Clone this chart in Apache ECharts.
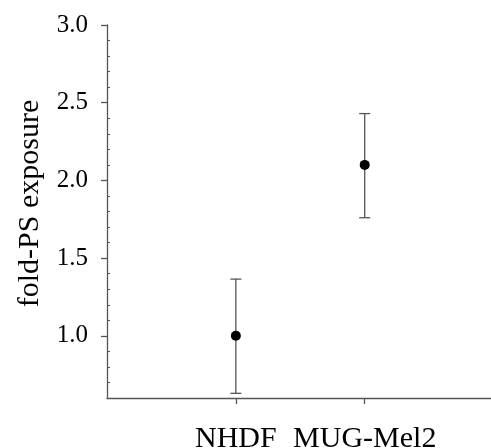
<!DOCTYPE html>
<html>
<head>
<meta charset="utf-8">
<script src="https://cdn.jsdelivr.net/npm/echarts@6/dist/echarts.min.js"></script>
<style>html,body{margin:0;padding:0;background:#fff}#c{width:491px;height:448px}</style>
</head>
<body>
<div id="c"></div>
<script>
const categories = ["NHDF", "MUG-Mel2"];
const xPositions = [1, 2];
const means = [1.0, 2.1];
const lower = [0.63, 1.76];
const upper = [1.365, 2.43];
const yMajorTicks = [1.0, 1.5, 2.0, 2.5, 3.0];
const yMinorTicks = [0.7, 0.8, 0.9, 1.1, 1.2, 1.3, 1.4, 1.6, 1.7, 1.8, 1.9, 2.1, 2.2, 2.3, 2.4, 2.6, 2.7, 2.8, 2.9];

const font = "'Liberation Serif', 'Times New Roman', serif";
const axisColor = '#555';

const chart = echarts.init(document.getElementById('c'), null, {renderer: 'canvas'});
const points = xPositions.map((x, i) => [x, means[i]]);
const bars = xPositions.map((x, i) => [x, lower[i], upper[i]]);

chart.setOption({
  animation: false,
  grid: {left: 107, right: 0, top: 25, bottom: 50, containLabel: false, outerBoundsMode: 'none'},
  xAxis: {
    type: 'value', min: 0, max: 2.98,
    axisLine: {show: true, onZero: false, lineStyle: {color: axisColor, width: 1.3}},
    axisTick: {show: true, length: 6, inside: false, customValues: xPositions, lineStyle: {color: axisColor, width: 1.3}},
    axisLabel: {
      customValues: xPositions, margin: 26,
      formatter: v => categories[xPositions.indexOf(v)] || '',
      fontFamily: font, fontSize: 30, color: '#000'
    },
    splitLine: {show: false}
  },
  yAxis: [{
    type: 'value', min: 0.6, max: 3.0,
    name: 'fold-PS exposure', nameLocation: 'middle', nameGap: 62, nameRotate: 90,
    nameTextStyle: {fontFamily: font, fontSize: 30, color: '#000', padding: [0, 0, 0, 16]},
    axisLine: {show: true, lineStyle: {color: axisColor, width: 1.3}},
    axisTick: {show: true, length: 6, customValues: yMajorTicks, lineStyle: {color: axisColor, width: 1.3}},
    axisLabel: {customValues: yMajorTicks, margin: 19, formatter: v => v.toFixed(1), fontFamily: font, fontSize: 25, color: '#000'},
    splitLine: {show: false}
  }, {
    type: 'value', min: 0.6, max: 3.0, position: 'left',
    axisLine: {show: false},
    axisTick: {show: true, inside: true, length: 3, customValues: yMinorTicks, lineStyle: {color: axisColor, width: 1}},
    axisLabel: {show: false},
    splitLine: {show: false}
  }],
  series: [{
    type: 'custom',
    data: bars,
    renderItem: function (params, api) {
      const x = api.value(0);
      const lo = api.coord([x, api.value(1)]);
      const hi = api.coord([x, api.value(2)]);
      const hw = 5.5;
      const style = {stroke: axisColor, lineWidth: 1.3};
      return {
        type: 'group',
        children: [
          {type: 'line', shape: {x1: lo[0], y1: lo[1], x2: hi[0], y2: hi[1]}, style},
          {type: 'line', shape: {x1: lo[0] - hw, y1: lo[1], x2: lo[0] + hw, y2: lo[1]}, style},
          {type: 'line', shape: {x1: hi[0] - hw, y1: hi[1], x2: hi[0] + hw, y2: hi[1]}, style}
        ]
      };
    },
    z: 2
  }, {
    type: 'scatter',
    data: points,
    symbol: 'circle', symbolSize: 10,
    itemStyle: {color: '#000', opacity: 1},
    z: 3
  }]
});
</script>
</body>
</html>
